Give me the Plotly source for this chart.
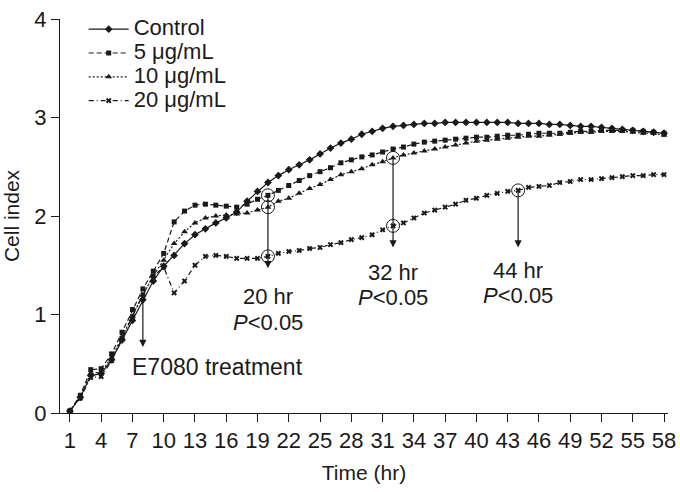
import plotly.graph_objects as go

hours = list(range(1, 59))

control = [0.02, 0.16, 0.38, 0.40, 0.54, 0.74, 0.94, 1.15, 1.34, 1.49,
           1.60, 1.72, 1.81, 1.87, 1.93, 1.98, 2.04, 2.15, 2.25, 2.34,
           2.41, 2.47, 2.52, 2.57, 2.63, 2.69, 2.74, 2.78, 2.83, 2.86,
           2.89, 2.91, 2.92, 2.93, 2.94, 2.94, 2.95, 2.95, 2.95, 2.95,
           2.95, 2.95, 2.95, 2.94, 2.94, 2.94, 2.93, 2.93, 2.92, 2.91,
           2.91, 2.90, 2.89, 2.88, 2.87, 2.86, 2.85, 2.84]

ug5 = [0.02, 0.18, 0.44, 0.45, 0.60, 0.82, 1.05, 1.26, 1.44, 1.62,
       1.94, 2.05, 2.11, 2.12, 2.11, 2.10, 2.09, 2.12, 2.17, 2.21,
       2.26, 2.31, 2.36, 2.41, 2.45, 2.49, 2.54, 2.57, 2.60, 2.62,
       2.65, 2.68, 2.70, 2.73, 2.75, 2.76, 2.77, 2.78, 2.79, 2.80,
       2.80, 2.81, 2.82, 2.82, 2.83, 2.84, 2.84, 2.84, 2.85, 2.86,
       2.86, 2.87, 2.87, 2.87, 2.87, 2.86, 2.85, 2.84]

ug10 = [0.02, 0.17, 0.40, 0.42, 0.56, 0.77, 0.98, 1.20, 1.39, 1.55,
        1.72, 1.84, 1.93, 1.98, 2.00, 2.01, 2.02, 2.03, 2.06, 2.09,
        2.15, 2.18, 2.23, 2.28, 2.32, 2.37, 2.42, 2.45, 2.48, 2.52,
        2.55, 2.59, 2.62, 2.64, 2.66, 2.68, 2.70, 2.72, 2.74, 2.76,
        2.77, 2.78, 2.79, 2.80, 2.81, 2.81, 2.82, 2.83, 2.84, 2.85,
        2.85, 2.86, 2.86, 2.86, 2.85, 2.84, 2.84, 2.82]

ug20 = [0.02, 0.15, 0.36, 0.37, 0.53, 0.76, 0.98, 1.20, 1.39, 1.48,
        1.22, 1.34, 1.50, 1.59, 1.60, 1.59, 1.57, 1.57, 1.57, 1.59,
        1.62, 1.64, 1.65, 1.67, 1.68, 1.71, 1.73, 1.76, 1.78, 1.81,
        1.86, 1.90, 1.93, 1.98, 2.03, 2.06, 2.09, 2.12, 2.16, 2.18,
        2.21, 2.23, 2.25, 2.26, 2.29, 2.30, 2.31, 2.34, 2.35, 2.37,
        2.37, 2.38, 2.39, 2.40, 2.41, 2.41, 2.42, 2.42]

tick_vals = list(range(1, 59, 3))
series_names = ["Control", "5 μg/mL", "10 μg/mL", "20 μg/mL"]

# significance points: (hour, series)
sig_points = [(20, ug5), (20, ug10), (20, ug20), (32, ug10), (32, ug20), (44, ug20)]
# arrows: hour, start series, arrow-tip value, label positions
arrow_hours = [20, 32, 44]
arrow_start = [ug5, ug10, ug20]
arrow_tip = [1.47, 1.68, 1.68]
label_hr_y = [1.18, 1.43, 1.45]
label_p_y = [0.92, 1.17, 1.19]
treat_hour = 8

FONT = "Arial, Liberation Sans, sans-serif"
INK = "#1a1a1a"
FS = 22

fig = go.Figure()
styles = [
    dict(dash="solid", symbol="diamond", size=6),
    dict(dash="5px,3px", symbol="square", size=5),
    dict(dash="2px,2px", symbol="triangle-up", size=6),
    dict(dash="5px,3px,1px,3px", symbol="x", size=5),
]
for name, ys, st in zip(series_names, [control, ug5, ug10, ug20], styles):
    fig.add_trace(go.Scatter(
        x=hours, y=ys, name=f'<span style="font-size:{FS}px">{name}</span>',
        mode="lines+markers",
        line=dict(color=INK, width=1.2, dash=st["dash"]),
        marker=dict(color=INK, symbol=st["symbol"], size=st["size"], line=dict(width=0)),
    ))

fig.add_trace(go.Scatter(
    x=[h for h, s in sig_points], y=[s[h - 1] for h, s in sig_points],
    mode="markers", showlegend=False,
    marker=dict(symbol="circle-open", size=13, color=INK, line=dict(width=1)),
))

annotations = []
for h, s, tip, hy, py in zip(arrow_hours, arrow_start, arrow_tip, label_hr_y, label_p_y):
    annotations.append(dict(
        x=h, y=tip, ax=h, ay=s[h - 1], xref="x", yref="y", axref="x", ayref="y",
        showarrow=True, arrowhead=2, arrowsize=1.2, arrowwidth=1.2, arrowcolor=INK, text="",
    ))
    annotations.append(dict(
        x=h, y=hy, xref="x", yref="y", showarrow=False,
        text=f"{h} hr", font=dict(size=FS, color=INK, family=FONT),
    ))
    annotations.append(dict(
        x=h, y=py, xref="x", yref="y", showarrow=False,
        text="<i>P</i>&lt;0.05", font=dict(size=FS, color=INK, family=FONT),
    ))
annotations.append(dict(
    x=treat_hour, y=0.67, ax=treat_hour, ay=control[treat_hour - 1] + 0.03,
    xref="x", yref="y", axref="x", ayref="y",
    showarrow=True, arrowhead=2, arrowsize=1.2, arrowwidth=1.2, arrowcolor=INK, text="",
))
annotations.append(dict(
    x=treat_hour - 1.2, y=0.47, xref="x", yref="y", xanchor="left", showarrow=False,
    text="E7080 treatment", font=dict(size=23, color=INK, family=FONT),
))

fig.update_layout(
    width=680, height=492,
    margin=dict(l=60, r=4, t=19, b=79),
    paper_bgcolor="white", plot_bgcolor="white",
    font=dict(family=FONT, size=FS, color=INK),
    showlegend=True,
    legend=dict(x=0.039, y=1.017, xanchor="left", yanchor="top",
                bgcolor="rgba(0,0,0,0)", font=dict(size=16), itemwidth=40,
                tracegroupgap=0),
    annotations=annotations,
    xaxis=dict(range=[0.05, 58.38], tickvals=tick_vals, ticktext=[str(v) for v in tick_vals],
               showline=True, linecolor=INK, linewidth=1, ticks="outside", ticklen=8,
               tickcolor=INK, showgrid=False, zeroline=False, ticklabeloverflow="allow",
               title=dict(text="Time (hr)", font=dict(size=21), standoff=12),
               tickfont=dict(size=FS)),
    yaxis=dict(range=[0, 4], tickvals=[0, 1, 2, 3, 4],
               showline=True, linecolor=INK, linewidth=1, ticks="outside", ticklen=8,
               tickcolor=INK, showgrid=False, zeroline=False,
               title=dict(text="Cell index", font=dict(size=21), standoff=8),
               tickfont=dict(size=FS)),
)

fig.write_html("out.html")
